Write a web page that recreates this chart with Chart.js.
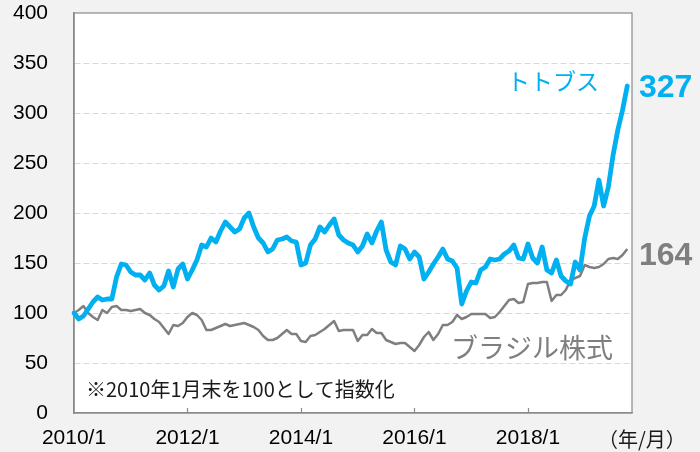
<!DOCTYPE html>
<html>
<head>
<meta charset="utf-8">
<script src="https://cdn.jsdelivr.net/npm/chart.js@4.4.1/dist/chart.umd.min.js"></script>
<style>
  html, body { margin: 0; padding: 0; background: #f2f2f2; }
  #wrap { width: 700px; height: 452px; }
</style>
</head>
<body>
<div id="wrap"><canvas id="chart" width="700" height="452"></canvas></div>
<script>
// monthly categories 2010/1 .. 2019/11 (last one is the empty right edge)
const months = [];
for (let y = 2010; y <= 2019; y++) {
  for (let m = 1; m <= 12; m++) {
    if (y === 2019 && m > 11) break;
    months.push(y + '/' + m);
  }
}

// トトブス index (2010/1 = 100)
const totobusu = [
  100, 94, 97, 104, 111, 116, 113, 114, 114, 136, 149, 148,
  141, 138, 138, 133, 140, 128, 123, 127, 142, 126, 144, 149,
  134, 143, 153, 168, 166, 175, 171, 182, 191, 186, 181, 184,
  195, 200, 186, 175, 170, 161, 164, 173, 174, 176, 172, 171,
  148, 150, 168, 174, 186, 181, 188, 194, 178, 173, 170, 168,
  161, 167, 179, 170, 182, 191, 163, 151, 148, 167, 164, 154,
  161, 156, 134, 141, 149, 156, 164, 154, 152, 145, 109, 122,
  131, 130, 143, 146, 154, 153, 154, 159, 162, 168, 155, 154,
  169, 155, 150, 166, 143, 140, 153, 137, 132, 129, 151, 143,
  175, 197, 207, 233, 207, 226, 258, 283, 303, 327
];

// ブラジル株式 index (2010/1 = 100)
const brazil = [
  100, 103, 107, 100, 96, 93, 103, 100, 106, 107, 103, 103,
  102, 103, 104, 100, 98, 94, 91, 85, 79, 88, 87, 90,
  96, 100, 98, 93, 83, 83, 85, 87, 89, 87, 88, 89,
  90, 88, 86, 83, 77, 73, 73, 75, 79, 83, 79, 79,
  72, 71, 77, 78, 81, 84, 88, 92, 82, 83, 83, 83,
  72, 78, 78, 84, 80, 80, 73, 71, 69, 70, 70, 66,
  62, 68, 76, 81, 73, 79, 88, 88, 91, 98, 94, 96,
  99, 99, 99, 99, 95, 96, 101, 107, 113, 114, 110, 111,
  129, 130, 130, 131, 131, 112, 118, 118, 123, 133, 135, 137,
  148, 146, 145, 146, 149, 154, 155, 154, 158, 164
];

const yTicks = [0, 50, 100, 150, 200, 250, 300, 350, 400];
const xTickEvery = 24;

const BLUE = '#00b0f0';
const GREY = '#7f7f7f';
const JP = "'Liberation Sans', 'Noto Sans CJK JP', sans-serif";

// plot box + upward x tick marks + text labels
const plotFrame = {
  id: 'plotFrame',
  beforeDraw(chart) {
    const { ctx, chartArea: a } = chart;
    ctx.save();
    ctx.fillStyle = '#ffffff';
    ctx.fillRect(a.left, a.top, a.right - a.left, a.bottom - a.top);
    ctx.restore();
  },
  beforeDatasetsDraw(chart) {
    const { ctx, chartArea: a, scales } = chart;
    ctx.save();
    ctx.strokeStyle = '#898989';
    ctx.lineWidth = 1.2;
    ctx.strokeRect(a.left, a.top, a.right - a.left, a.bottom - a.top);
    ctx.beginPath();
    scales.x.ticks.forEach(t => {
      if (t.value % xTickEvery !== 0 || t.value === 0) return;
      const x = Math.round(scales.x.getPixelForValue(t.value)) + 0.5;
      ctx.moveTo(x, a.bottom);
      ctx.lineTo(x, a.bottom - 5);
    });
    ctx.stroke();
    ctx.restore();
  },
  afterDraw(chart) {
    const { ctx } = chart;
    ctx.save();
    ctx.textBaseline = 'middle';
    ctx.textAlign = 'left';

    ctx.fillStyle = BLUE;
    ctx.font = '23px ' + JP;
    ctx.fillText('トトブス', 507, 84);

    ctx.font = 'bold 32px ' + JP;
    ctx.fillText('327', 639, 88);

    ctx.fillStyle = GREY;
    ctx.fillText('164', 639, 256);
    ctx.font = '27px ' + JP;
    ctx.fillText('ブラジル株式', 451, 351);

    ctx.fillStyle = '#1a1a1a';
    ctx.font = "20px 'Noto Sans CJK JP', sans-serif";
    ctx.fillText('※2010年1月末を100として指数化', 86, 389);
    ctx.fillText('（年/月）', 598, 439);
    ctx.restore();
  }
};

new Chart(document.getElementById('chart'), {
  type: 'line',
  data: {
    labels: months,
    datasets: [
      {
        label: 'トトブス',
        data: totobusu,
        borderColor: BLUE,
        borderWidth: 4.8,
        pointRadius: 0,
        tension: 0,
        borderJoinStyle: 'round',
        borderCapStyle: 'round'
      },
      {
        label: 'ブラジル株式',
        data: brazil,
        borderColor: GREY,
        borderWidth: 2.5,
        pointRadius: 0,
        tension: 0,
        borderJoinStyle: 'round'
      }
    ]
  },
  options: {
    responsive: false,
    animation: false,
    devicePixelRatio: 1,
    layout: { padding: { top: 13, right: 68, left: 0, bottom: 0 } },
    plugins: {
      legend: { display: false },
      tooltip: { enabled: false }
    },
    scales: {
      x: {
        type: 'category',
        offset: false,
        grid: { display: false, drawTicks: false },
        border: { display: true, color: '#898989', width: 1.2 },
        ticks: {
          autoSkip: false,
          maxRotation: 0,
          padding: 13,
          color: '#000000',
          font: { family: 'Liberation Sans', size: 21 },
          callback: function(value, index) {
            return (index % xTickEvery === 0 && index <= 96) ? months[index] : '';
          }
        },
        afterFit: function(scale) {
          scale.height = 39;
          scale.paddingLeft = 0;
          scale.paddingRight = 0;
        }
      },
      y: {
        min: 0,
        max: 400,
        afterBuildTicks: function(scale) {
          scale.ticks = yTicks.map(v => ({ value: v }));
        },
        grid: {
          drawTicks: false,
          lineWidth: 1,
          color: function(ctx) {
            const v = ctx.tick && ctx.tick.value;
            return (v === 0 || v === 400) ? 'rgba(0,0,0,0)' : '#d9d9d9';
          }
        },
        border: { display: true, color: '#898989', width: 1.5, dash: [6, 3] },
        ticks: {
          padding: 26,
          color: '#000000',
          font: { family: 'Liberation Sans', size: 21 }
        },
        afterFit: function(scale) {
          scale.width = 74;
          scale.paddingTop = 0;
          scale.paddingBottom = 0;
        }
      }
    }
  },
  plugins: [plotFrame]
});
</script>
</body>
</html>
